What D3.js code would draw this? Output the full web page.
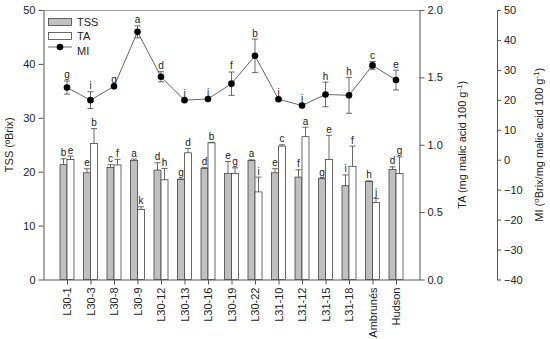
<!DOCTYPE html>
<html>
<head>
<meta charset="utf-8">
<script src="https://cdn.jsdelivr.net/npm/d3@7"></script>
<style>
  body { margin: 0; background: #fff; }
  svg { font-family: Arial, "Liberation Sans", sans-serif; }
</style>
</head>
<body>
<svg id="chart" width="550" height="339"></svg>
<script>
// Data
var cultivars = ['L30-1', 'L30-3', 'L30-8', 'L30-9', 'L30-12', 'L30-13', 'L30-16', 'L30-19',
                 'L30-22', 'L31-10', 'L31-12', 'L31-15', 'L31-18', 'Ambrunés', 'Hudson'];

var tss    = [21.3, 19.8, 20.8, 22.1, 20.3, 18.55, 20.6, 19.7, 22.1, 19.8, 19.0, 18.7, 17.4, 18.2, 20.4];
var tssErr = [1.1, 0.75, 0.5, 0.25, 1.35, 0.1, 0.2, 2.2, 0.1, 0.75, 1.35, 0.1, 2.0, 0.1, 0.5];
var tssLet = ['b', 'e', 'c', 'a', 'd', 'g', 'd', 'e', 'a', 'e', 'f', 'g', 'i', 'h', 'd'];

var ta    = [0.89, 1.01, 0.85, 0.52, 0.74, 0.94, 1.014, 0.787, 0.65, 0.99, 1.06, 0.89, 0.84, 0.572, 0.787];
var taErr = [0.026, 0.11, 0.042, 0.02, 0.084, 0.033, 0.004, 0.042, 0.11, 0.01, 0.07, 0.18, 0.15, 0.03, 0.123];
var taLet = ['e', 'b', 'f', 'k', 'h', 'd', 'b', 'g', 'i', 'c', 'a', 'e', 'f', 'j', 'g'];

var mi    = [24.1, 19.9, 24.5, 42.7, 27.7, 19.9, 20.3, 25.4, 34.7, 20.2, 18.1, 21.8, 21.5, 31.5, 26.6];
var miErr = [2.2, 2.8, 0.4, 2.0, 1.7, 0.3, 0.3, 3.9, 5.6, 0.3, 0.5, 4.1, 6.0, 1.3, 3.3];
var miLet = ['g', 'i', 'g', 'a', 'd', 'i', 'i', 'f', 'b', 'i', 'j', 'h', 'h', 'c', 'e'];

var tssTicks = [0, 10, 20, 30, 40, 50];
var taTicks = [0.0, 0.5, 1.0, 1.5, 2.0];
var miTicks = [-40, -30, -20, -10, 0, 10, 20, 30, 40, 50];

var svg = d3.select('#chart');
var mLeft = 43.5, mRight = 419.5, mTop = 10, mBottom = 279.5;
var axisColor = '#555';

var x = d3.scalePoint().domain(cultivars).range([mLeft, mRight]).padding(1);
var yTss = d3.scaleLinear().domain([0, 50]).range([mBottom, mTop]);
var yTa = d3.scaleLinear().domain([0, 2]).range([mBottom, mTop]);
var yMi = d3.scaleLinear().domain([-40, 50]).range([mBottom, mTop]);
var barW = 7;

// Frame top line
svg.append('line')
  .attr('x1', mLeft).attr('x2', mRight).attr('y1', mTop + 0.5).attr('y2', mTop + 0.5)
  .attr('stroke', '#999');

// Axes
function styleAxis(g) {
  g.selectAll('path, line').attr('stroke', axisColor);
  g.selectAll('text').attr('font-size', 11).attr('fill', '#222');
}

svg.append('g')
  .attr('transform', 'translate(' + mLeft + ',0)')
  .call(d3.axisLeft(yTss).tickValues(tssTicks).tickSize(5).tickSizeOuter(0))
  .call(styleAxis);

svg.append('g')
  .attr('transform', 'translate(' + mRight + ',0)')
  .call(d3.axisRight(yTa).tickValues(taTicks).tickFormat(d3.format('.1f')).tickSize(5).tickSizeOuter(0))
  .call(styleAxis);

svg.append('g')
  .attr('transform', 'translate(497,0)')
  .call(d3.axisRight(yMi).tickValues(miTicks).tickSize(4).tickSizeOuter(0))
  .call(styleAxis);

var xAxis = svg.append('g')
  .attr('transform', 'translate(0,' + mBottom + ')')
  .call(d3.axisBottom(x).tickSize(5).tickSizeOuter(0))
  .call(styleAxis);
xAxis.select('.domain').attr('d', 'M' + mLeft + ',0.5H' + mRight);
xAxis.selectAll('text')
  .attr('transform', 'rotate(-90)')
  .attr('text-anchor', 'end')
  .attr('x', -8).attr('y', 0).attr('dy', '0.35em');

// Bars
svg.append('g').selectAll('rect')
  .data(cultivars)
  .join('rect')
  .attr('x', function (d) { return x(d) - barW; })
  .attr('y', function (d, i) { return yTss(tss[i]); })
  .attr('width', barW)
  .attr('height', function (d, i) { return mBottom - yTss(tss[i]); })
  .attr('fill', '#c0c0c0').attr('stroke', '#444').attr('stroke-width', 0.8);

svg.append('g').selectAll('rect')
  .data(cultivars)
  .join('rect')
  .attr('x', function (d) { return x(d); })
  .attr('y', function (d, i) { return yTa(ta[i]); })
  .attr('width', barW)
  .attr('height', function (d, i) { return mBottom - yTa(ta[i]); })
  .attr('fill', '#fff').attr('stroke', '#444').attr('stroke-width', 0.8);

// Error bars (upwards) and letters for bars
function barErrors(vals, errs, lets, scale, dx) {
  var g = svg.append('g').attr('stroke', '#444').attr('stroke-width', 0.8);
  cultivars.forEach(function (c, i) {
    var cx = x(c) + dx;
    var y0 = scale(vals[i]), y1 = scale(vals[i] + errs[i]);
    g.append('line').attr('x1', cx).attr('x2', cx).attr('y1', y0).attr('y2', y1);
    g.append('line').attr('x1', cx - 3).attr('x2', cx + 3).attr('y1', y1).attr('y2', y1);
    svg.append('text')
      .attr('x', cx).attr('y', y1 - 2.5)
      .attr('text-anchor', 'middle').attr('font-size', 10).attr('fill', '#222')
      .text(lets[i]);
  });
}
barErrors(tss, tssErr, tssLet, yTss, -barW / 2);
barErrors(ta, taErr, taLet, yTa, barW / 2);

// MI line
var line = d3.line()
  .x(function (d) { return x(d); })
  .y(function (d, i) { return yMi(mi[i]); });

svg.append('path')
  .datum(cultivars)
  .attr('d', line)
  .attr('fill', 'none').attr('stroke', '#666').attr('stroke-width', 1);

var eg = svg.append('g').attr('stroke', '#444').attr('stroke-width', 0.8);
cultivars.forEach(function (c, i) {
  var cx = x(c);
  var yHi = yMi(mi[i] + miErr[i]), yLo = yMi(mi[i] - miErr[i]);
  eg.append('line').attr('x1', cx).attr('x2', cx).attr('y1', yLo).attr('y2', yHi);
  eg.append('line').attr('x1', cx - 3).attr('x2', cx + 3).attr('y1', yHi).attr('y2', yHi);
  eg.append('line').attr('x1', cx - 3).attr('x2', cx + 3).attr('y1', yLo).attr('y2', yLo);
  svg.append('text')
    .attr('x', cx).attr('y', yHi - 2.5)
    .attr('text-anchor', 'middle').attr('font-size', 10).attr('fill', '#222')
    .text(miLet[i]);
});

svg.append('g').selectAll('circle')
  .data(cultivars)
  .join('circle')
  .attr('cx', function (d) { return x(d); })
  .attr('cy', function (d, i) { return yMi(mi[i]); })
  .attr('r', 3.3)
  .attr('fill', '#000');

// Legend
var lg = svg.append('g');
lg.append('rect').attr('x', 48.5).attr('y', 18.5).attr('width', 23).attr('height', 7)
  .attr('fill', '#c0c0c0').attr('stroke', '#444').attr('stroke-width', 0.8);
lg.append('rect').attr('x', 48.5).attr('y', 32.5).attr('width', 23).attr('height', 7)
  .attr('fill', '#fff').attr('stroke', '#444').attr('stroke-width', 0.8);
lg.append('line').attr('x1', 48).attr('x2', 72).attr('y1', 47).attr('y2', 47)
  .attr('stroke', '#666');
lg.append('circle').attr('cx', 60).attr('cy', 47).attr('r', 3.3).attr('fill', '#000');
['TSS', 'TA', 'MI'].forEach(function (t, i) {
  lg.append('text').attr('x', 77).attr('y', 22 + i * 14.5).attr('dy', '0.35em')
    .attr('font-size', 11).attr('fill', '#222').text(t);
});

// Axis titles
var midY = (mTop + mBottom) / 2;
svg.append('text')
  .attr('transform', 'translate(13,' + midY + ') rotate(-90)')
  .attr('text-anchor', 'middle').attr('font-size', 11).attr('fill', '#222')
  .text('TSS (ºBrix)');

var taTitle = svg.append('text')
  .attr('transform', 'translate(466,' + midY + ') rotate(-90)')
  .attr('text-anchor', 'middle').attr('font-size', 11).attr('fill', '#222');
taTitle.append('tspan').text('TA (mg malic acid 100 g');
taTitle.append('tspan').attr('dy', -4).attr('font-size', 8).text('-1');
taTitle.append('tspan').attr('dy', 4).text(')');

var miTitle = svg.append('text')
  .attr('transform', 'translate(543,' + midY + ') rotate(-90)')
  .attr('text-anchor', 'middle').attr('font-size', 11).attr('fill', '#222');
miTitle.append('tspan').text('MI (');
miTitle.append('tspan').attr('dy', -4).attr('font-size', 8).text('o');
miTitle.append('tspan').attr('dy', 4).text('Brix/mg malic acid 100 g');
miTitle.append('tspan').attr('dy', -4).attr('font-size', 8).text('-1');
miTitle.append('tspan').attr('dy', 4).text(')');
</script>
</body>
</html>
